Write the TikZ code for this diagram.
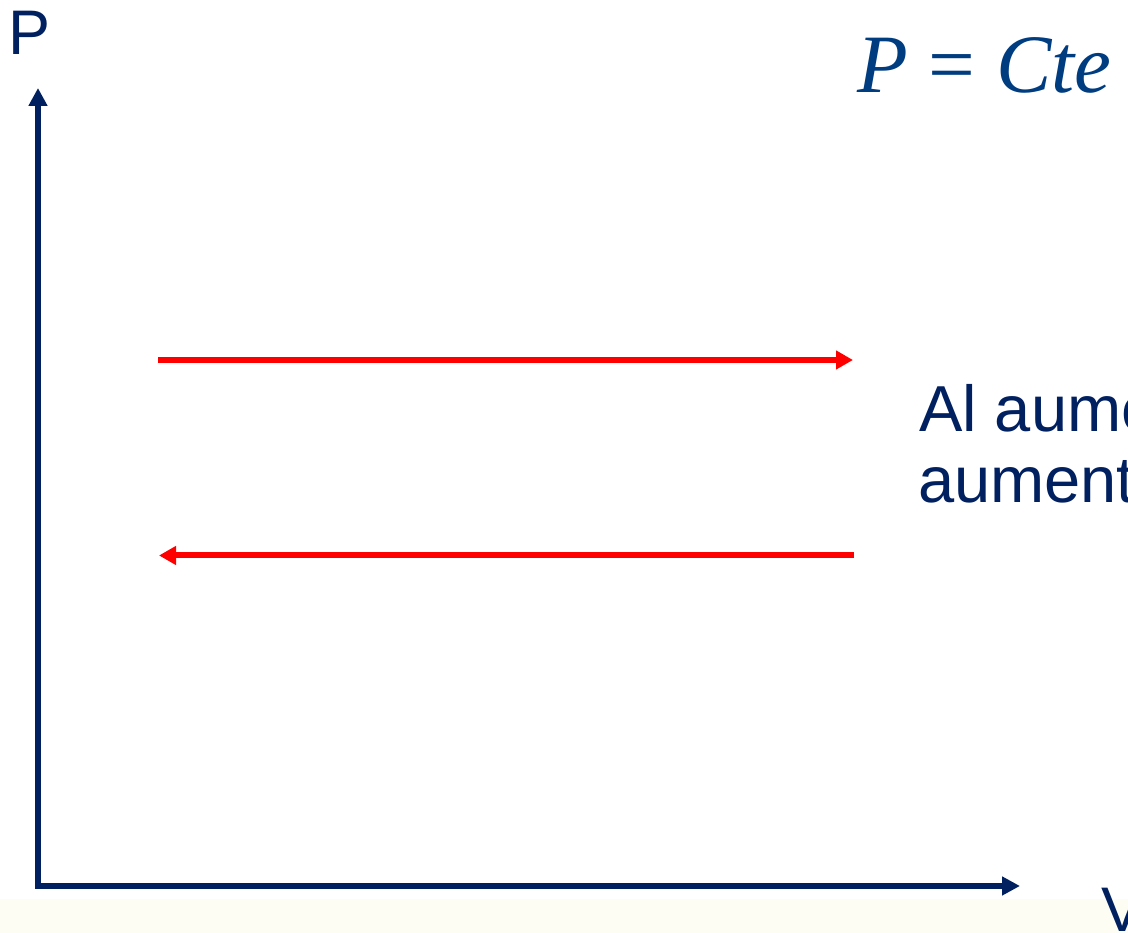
\documentclass[tikz,border=0pt]{standalone}
\usepackage{fontspec}
\setmainfont{Liberation Sans}
\newfontfamily\eqfont{Liberation Serif}
\usetikzlibrary{arrows.meta}
\definecolor{axisblue}{RGB}{0,32,96}
\definecolor{eqblue}{RGB}{0,60,128}
\definecolor{paleband}{RGB}{253,253,244}
\begin{document}
\begin{tikzpicture}[x=1pt, y=1pt,
    axis/.style={line width=6pt, axisblue, line join=miter, -{Triangle[length=18pt, width=18pt]}},
    isobar/.style={line width=6pt, red, -{Triangle[length=17pt, width=18pt]}},
    label/.style={inner sep=0pt, text=axisblue, font=\fontsize{63}{75}\selectfont}]
    \clip (0,0) rectangle (1128,933);
    % Background
    \fill[white] (0,0) rectangle (1128,933);
    \fill[paleband] (0,0) rectangle (1128,34);

    % Axes
    \coordinate (O) at (38,47);
    \coordinate (ptip) at (38,845);
    \coordinate (vtip) at (1020,47);
    \draw[axis] (O |- 0,44) -- (ptip);
    \draw[axis] (35,47) -- (vtip);
    \node[label, anchor=base] (plabel) at (30,878) {P};
    \node[label, anchor=base west] (vlabel) at (1101,1) {V};

    % Equation
    \node[inner sep=0pt, anchor=base west, text=eqblue,
          font=\eqfont\fontsize{83}{100}\selectfont] (eq) at (857,840)
          {\textit{P} = \textit{Cte}};

    % Isobaric arrows
    \coordinate (a1) at (158,573);
    \coordinate (b1) at (853,573);
    \coordinate (a2) at (854,377.5);
    \coordinate (b2) at (159,377.5);
    \draw[isobar] (a1) -- (b1);
    \draw[isobar] (a2) -- (b2);

    % Note
    \node[label, anchor=base west, font=\fontsize{65}{78}\selectfont] (note1) at (919,501) {Al aume};
    \node[label, anchor=base west, font=\fontsize{65}{78}\selectfont] (note2) at (918,430) {aument};
\end{tikzpicture}
\end{document}
